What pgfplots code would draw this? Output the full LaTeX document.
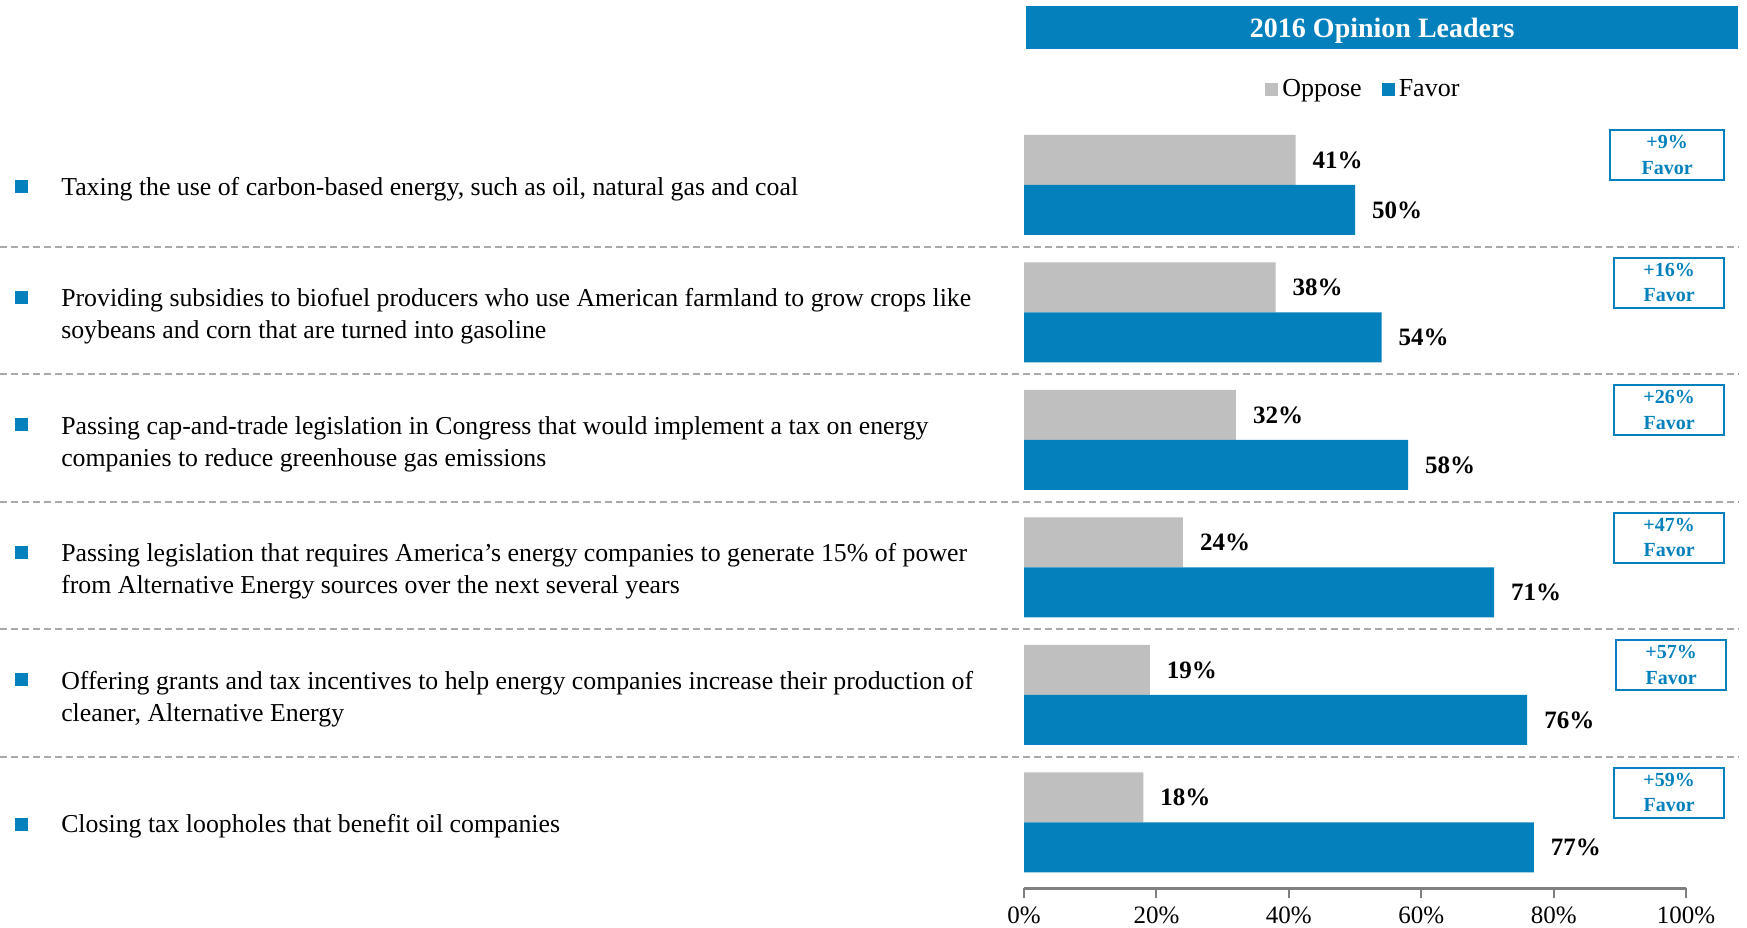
\documentclass[border=0pt]{standalone}
\usepackage{pgfplots}
\pgfplotsset{compat=1.18}
\usepackage{fontspec}
\setmainfont{Liberation Serif}
\definecolor{favblue}{RGB}{4,129,189}
\definecolor{oppgray}{RGB}{191,191,191}
\definecolor{sepgray}{RGB}{170,170,170}
\definecolor{axisgray}{RGB}{128,128,128}
\begin{document}
\begin{tikzpicture}
\begin{axis}[
  x=3.31pt, y=63.75pt,
  xmin=0, xmax=100, ymin=-0.514, ymax=5.6,
  xbar, bar width=25pt,
  axis x line*=bottom, axis y line=none,
  x axis line style={draw=axisgray, line width=1.5pt, -},
  xtick={0,20,40,60,80,100},
  xticklabels={0\%,20\%,40\%,60\%,80\%,100\%},
  major tick length=5pt, tick align=outside,
  xtick style={draw=axisgray, line width=1pt},
  ytick=\empty,
  clip=false,
  xticklabel style={font=\fontsize{12.5}{14}\selectfont, yshift=-1pt},
  point meta=x,
  nodes near coords={\pgfmathprintnumber[assume math mode=true]{\pgfplotspointmeta}\%},
  nodes near coords style={anchor=west, xshift=5pt, font=\bfseries\fontsize{12.5}{14}\selectfont, text=black},
  legend style={at={(axis cs:51.4,5.75)}, anchor=center, draw=none, fill=none,
    legend columns=2, font=\fontsize{13}{15}\selectfont,
    /tikz/every even column/.append style={column sep=8pt}},
  legend image code/.code={\fill[#1, draw=none] (0pt,-3.25pt) rectangle (6.5pt,3.25pt);},
]
\addplot[fill=oppgray, draw=none, bar shift=12.5pt] coordinates {(41,5) (38,4) (32,3) (24,2) (19,1) (18,0)};
\addplot[fill=favblue, draw=none, bar shift=-12.5pt] coordinates {(50,5) (54,4) (58,3) (71,2) (76,1) (77,0)};
\legend{Oppose, Favor}

% title bar
\fill[favblue] (axis cs:0.3,6.065) rectangle (axis cs:107.85,6.404);
\node[text=white, font=\bfseries\fontsize{14}{16}\selectfont] at (axis cs:54.1,6.21) {2016 Opinion Leaders};

% separators
\draw[sepgray, line width=1.1pt, dash pattern=on 3.5pt off 2pt] (axis cs:-154.7,4.515) -- (axis cs:107.9,4.515);
\draw[sepgray, line width=1.1pt, dash pattern=on 3.5pt off 2pt] (axis cs:-154.7,3.515) -- (axis cs:107.9,3.515);
\draw[sepgray, line width=1.1pt, dash pattern=on 3.5pt off 2pt] (axis cs:-154.7,2.515) -- (axis cs:107.9,2.515);
\draw[sepgray, line width=1.1pt, dash pattern=on 3.5pt off 2pt] (axis cs:-154.7,1.515) -- (axis cs:107.9,1.515);
\draw[sepgray, line width=1.1pt, dash pattern=on 3.5pt off 2pt] (axis cs:-154.7,0.515) -- (axis cs:107.9,0.515);

% row labels
\tikzset{rowlab/.style={anchor=west, align=left, inner sep=0pt, yshift=-2pt, font=\fontsize{12.9}{16}\selectfont},
         bul/.style={fill=favblue, minimum width=6.5pt, minimum height=6.5pt, inner sep=0pt}}
\node[rowlab] at (axis cs:-145.5,5) {Taxing the use of carbon-based energy, such as oil, natural gas and coal};
\node[rowlab] at (axis cs:-145.5,4) {Providing subsidies to biofuel producers who use American farmland to grow crops like\\soybeans and corn that are turned into gasoline};
\node[rowlab] at (axis cs:-145.5,3) {Passing cap-and-trade legislation in Congress that would implement a tax on energy\\companies to reduce greenhouse gas emissions};
\node[rowlab] at (axis cs:-145.5,2) {Passing legislation that requires America’s energy companies to generate 15\% of power\\from Alternative Energy sources over the next several years};
\node[rowlab] at (axis cs:-145.5,1) {Offering grants and tax incentives to help energy companies increase their production of\\cleaner, Alternative Energy};
\node[rowlab] at (axis cs:-145.5,0) {Closing tax loopholes that benefit oil companies};
\node[bul] at (axis cs:-151.45,4.985) {};
\node[bul] at (axis cs:-151.45,4.12) {};
\node[bul] at (axis cs:-151.45,3.12) {};
\node[bul] at (axis cs:-151.45,2.12) {};
\node[bul] at (axis cs:-151.45,1.12) {};
\node[bul] at (axis cs:-151.45,-0.015) {};

% difference boxes
\tikzset{diffbox/.style={draw=favblue, line width=1pt, text=favblue, font=\bfseries\fontsize{10}{12.8}\selectfont, align=center, anchor=east, minimum width=55pt, minimum height=25pt, inner sep=1.5pt}}
\node[diffbox, minimum width=57pt] at (axis cs:105.9,5.235) {+9\%\\Favor};
\node[diffbox] at (axis cs:105.9,4.235) {+16\%\\Favor};
\node[diffbox] at (axis cs:105.9,3.235) {+26\%\\Favor};
\node[diffbox] at (axis cs:105.9,2.235) {+47\%\\Favor};
\node[diffbox] at (axis cs:106.2,1.235) {+57\%\\Favor};
\node[diffbox] at (axis cs:105.9,0.235) {+59\%\\Favor};

\coordinate (bbSW) at (axis cs:-154.7,-0.82);
\coordinate (bbNE) at (axis cs:109.2,6.451);
\end{axis}
\pgfresetboundingbox
\path[use as bounding box] (bbSW) rectangle (bbNE);
\end{tikzpicture}
\end{document}
